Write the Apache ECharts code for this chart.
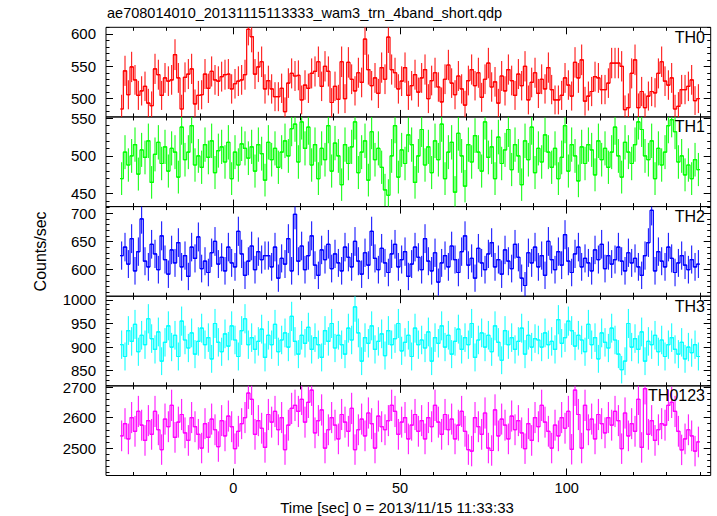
<!DOCTYPE html>
<html><head><meta charset="utf-8">
<script src="https://cdn.jsdelivr.net/npm/echarts@6/dist/echarts.min.js"></script>
<style>html,body{margin:0;padding:0;background:#fff}#c{width:717px;height:516px}</style>
</head><body><div id="c"></div>
<script>
// ---------------- data ----------------
const chartTitle = 'ae708014010_20131115113333_wam3_trn_4band_short.qdp';
const xAxisTitle = 'Time [sec] 0 = 2013/11/15 11:33:33';
const yAxisTitle = 'Counts/sec';
const panelNames = ['TH0', 'TH1', 'TH2', 'TH3', 'TH0123'];
const binStart = -34;   // start time of first 1-s bin
const binWidth = 1;

const th0 = [484,543,506,549,529,505,512,519,493,489,546,537,505,532,527,529,568,532,484,533,
 538,546,492,505,506,538,516,542,529,527,534,537,538,515,523,527,529,537,607,596,
 538,549,557,515,528,515,503,503,516,480,524,539,535,536,498,521,516,539,542,557,
 519,550,542,494,519,499,557,500,556,530,512,540,525,592,545,520,532,508,548,530,
 595,545,540,515,527,548,505,520,537,510,532,545,500,528,540,518,495,530,552,524,
 506,535,515,490,528,545,520,540,502,530,555,518,526,493,535,512,545,528,505,538,
 520,550,498,525,540,508,530,515,548,514,498,498,505,532,521,504,556,532,560,496,
 504,511,534,532,514,514,524,555,555,555,550,483,486,539,560,486,511,486,504,511,
 509,539,557,527,521,532,484,488,514,514,519,529,497,500];
const th1 = [470,505,488,500,515,476,508,498,520,465,502,518,490,512,480,510,505,472,538,495,
 505,540,488,500,485,515,498,520,478,507,512,492,518,470,505,488,516,510,497,512,
 480,515,503,468,518,495,510,485,505,520,500,536,542,492,545,510,538,488,515,470,
 510,495,540,480,517,500,462,515,490,512,545,478,505,520,468,532,495,510,485,455,
 448,500,540,472,508,490,528,515,465,500,535,488,512,478,520,495,542,470,505,518,
 452,530,500,460,515,492,527,505,480,545,498,512,470,525,490,508,535,482,515,500,
 462,520,495,538,478,510,492,528,505,485,510,470,498,540,480,515,500,467,512,490,
 515,508,475,520,495,510,485,505,538,500,472,518,505,490,515,545,535,500,495,520,
 470,510,488,505,540,548,532,492,500,475,488,470,495,482];
const th2 = [625,640,610,655,598,632,690,615,605,645,628,600,660,618,592,635,612,648,605,625,
 588,640,620,658,602,615,595,630,650,610,622,598,640,612,605,668,628,590,615,642,
 600,632,618,625,625,605,640,585,620,610,655,598,698,615,642,600,625,660,608,590,
 635,618,645,602,628,612,598,640,622,605,650,615,592,630,608,668,620,600,638,612,
 595,628,645,605,618,632,588,610,640,622,600,655,615,598,630,578,612,625,605,642,
 618,595,632,660,608,620,585,638,612,600,628,648,605,618,592,635,615,602,645,622,
 585,572,630,612,640,605,625,590,650,618,600,632,608,662,615,595,628,640,605,620,
 612,598,635,618,645,602,625,610,618,640,615,598,630,612,620,605,590,625,648,705,
 598,632,615,605,640,620,595,612,625,608,600,618,605,610];
const th3 = [905,880,935,912,948,890,925,905,960,918,895,932,870,910,945,900,925,880,955,915,
 898,930,885,912,940,905,920,875,950,910,890,928,902,945,915,880,935,960,905,920,
 895,912,938,878,925,905,948,890,915,930,900,965,912,885,925,908,942,895,920,905,
 878,935,912,950,898,925,905,885,940,915,985,930,870,920,908,945,895,912,928,882,
 935,905,918,950,892,910,925,880,940,905,915,898,932,870,920,908,945,900,925,885,
 912,938,895,920,905,950,878,915,930,900,925,890,945,910,872,935,905,920,895,912,
 940,885,925,900,918,915,900,930,905,912,895,958,908,920,955,935,902,925,915,890,
 948,905,920,875,930,910,898,940,915,885,852,870,950,900,918,895,932,870,912,905,
 925,890,915,880,905,920,895,885,910,875,900,888,905,880];
const th0123 = [2540,2580,2530,2600,2555,2620,2575,2525,2590,2545,2620,2560,2495,2595,2570,2640,2535,2585,2610,2550,
 2525,2600,2570,2545,2500,2580,2535,2595,2560,2505,2590,2540,2605,2570,2498,2555,2580,2600,2680,2660,
 2545,2590,2565,2502,2610,2585,2620,2560,2600,2495,2575,2630,2640,2620,2660,2585,2650,2690,2550,2590,
 2625,2500,2560,2600,2575,2530,2610,2585,2555,2630,2495,2560,2595,2540,2615,2580,2500,2605,2570,2560,
 2590,2640,2620,2545,2585,2600,2530,2575,2610,2555,2590,2530,2600,2570,2640,2585,2545,2610,2560,2595,
 2530,2575,2620,2555,2495,2490,2600,2570,2545,2615,2500,2492,2625,2540,2595,2575,2530,2605,2560,2590,
 2550,2498,2580,2525,2600,2570,2640,2585,2555,2500,2575,2540,2600,2565,2620,2496,2690,2610,2500,2640,
 2560,2595,2530,2610,2580,2550,2600,2575,2620,2590,2498,2615,2540,2580,2555,2660,2502,2695,2545,2590,
 2525,2560,2580,2575,2640,2650,2620,2555,2494,2530,2560,2540,2490,2520];

const xRange = [-38.2, 143.2];
const xTickLabels = [0, 50, 100];
const xMinorStep = 10;
const yRanges = [[471.7, 610.3], [433, 551.6], [553, 711.8], [817.7, 1007.8], [2410, 2704]];
const yTickLabels = [[500, 550, 600], [450, 500, 550], [600, 650, 700], [850, 900, 950, 1000], [2500, 2600, 2700]];
const yMinorSteps = [10, 10, 10, 10, 20];

// ---------------- style / layout ----------------
const colors = ['#ff0000', '#00ff00', '#0000ff', '#00ffff', '#ff00ff'];
const FONT = "'Liberation Sans', Arial, Helvetica, sans-serif";
const plotLeft = 106, plotRight = 710.7, plotTop = 27.3, plotBottom = 475.5;
const panelH = (plotBottom - plotTop) / 5;

const series = [th0, th1, th2, th3, th0123];

function stepValues(lo, hi, step) {
  const out = [];
  const s = Math.ceil(lo / step) * step;
  for (let v = s; v <= hi + 1e-9; v += step) out.push(Math.round(v * 1000) / 1000);
  return out;
}

const grids = [], xAxes = [], yAxes = [], ser = [];
const xMinor = stepValues(xRange[0], xRange[1], xMinorStep).filter(v => xTickLabels.indexOf(v) < 0);
const xMajor = xTickLabels.filter(v => v >= xRange[0] && v <= xRange[1]);
const yMajors = [];

for (let i = 0; i < 5; i++) {
  const top = plotTop + i * panelH;
  grids.push({left: plotLeft, top: top, width: plotRight - plotLeft, height: panelH,
    show: true, borderColor: '#000', borderWidth: 1, backgroundColor: 'transparent',
    containLabel: false, outerBoundsMode: 'none'});
  const yr = yRanges[i];
  const yMaj = yTickLabels[i].filter(v => v >= yr[0] && v <= yr[1]);
  yMajors.push(yMaj);
  const yMin = stepValues(yr[0], yr[1], yMinorSteps[i]).filter(v => yMaj.indexOf(v) < 0);
  const mkX = (pos, vals, len) => ({
    type: 'value', gridIndex: i, position: pos, min: xRange[0], max: xRange[1],
    axisLine: {show: false, onZero: false}, splitLine: {show: false},
    axisTick: {show: true, inside: true, length: len, customValues: vals, lineStyle: {color: '#000', width: 1}},
    axisLabel: {show: false}
  });
  xAxes.push(mkX('bottom', xMajor, 7));
  xAxes.push(mkX('bottom', xMinor, 3.5));
  xAxes.push(mkX('top', xMajor, 7));
  xAxes.push(mkX('top', xMinor, 3.5));
  const mkY = (pos, vals, len) => ({
    type: 'value', gridIndex: i, position: pos, min: yr[0], max: yr[1],
    axisLine: {show: false, onZero: false}, splitLine: {show: false},
    axisTick: {show: true, inside: true, length: len, customValues: vals, lineStyle: {color: '#000', width: 1}},
    axisLabel: {show: false}
  });
  yAxes.push(mkY('left', yMaj, 7));
  yAxes.push(mkY('left', yMin, 3.5));
  yAxes.push(mkY('right', yMaj, 7));
  yAxes.push(mkY('right', yMin, 3.5));

  const vals = series[i];
  const color = colors[i];
  const pts = vals.map((v, k) => [binStart + (k + 0.5) * binWidth, v, Math.sqrt(v * binWidth) / binWidth]);
  ser.push({
    type: 'line', xAxisIndex: i * 4, yAxisIndex: i * 4, data: pts.map(p => [p[0], p[1]]),
    step: 'middle', showSymbol: false, symbol: 'none', clip: true, animation: false,
    lineStyle: {color: color, width: 1.2}, silent: true
  });
  ser.push({
    type: 'custom', xAxisIndex: i * 4, yAxisIndex: i * 4, data: pts, clip: true, animation: false, silent: true,
    encode: {x: 0, y: 1},
    renderItem: function (params, api) {
      const t = api.value(0), v = api.value(1), e = api.value(2);
      const a = api.coord([t, v + e]), b = api.coord([t, v - e]);
      const l = api.coord([t - binWidth / 2, v]), r = api.coord([t + binWidth / 2, v]);
      return {type: 'group', children: [
        {type: 'line', shape: {x1: a[0], y1: a[1], x2: b[0], y2: b[1]}, style: {stroke: color, lineWidth: 1}},
        {type: 'line', shape: {x1: l[0], y1: l[1], x2: r[0], y2: r[1]}, style: {stroke: color, lineWidth: 1.2}}
      ]};
    }
  });
}

const chart = echarts.init(document.getElementById('c'), null, {renderer: 'svg'});
chart.setOption({
  animation: false,
  backgroundColor: '#fff',
  grid: grids, xAxis: xAxes, yAxis: yAxes, series: ser
});

// tick labels placed through the axes' own scales
const graphics = [];
for (let i = 0; i < 5; i++) {
  const top = plotTop + i * panelH;
  yMajors[i].forEach(v => {
    const p = chart.convertToPixel({xAxisIndex: i * 4, yAxisIndex: i * 4}, [xRange[0], v]);
    graphics.push({type: 'text', x: p[0] - 10, y: p[1], z: 50,
      style: {text: String(v), align: 'right', verticalAlign: 'middle', fill: '#000', font: '15px ' + FONT}});
  });
  graphics.push({type: 'text', x: 705, y: top + 10, z: 100,
    style: {text: panelNames[i], align: 'right', verticalAlign: 'middle', fill: '#000', font: '16px ' + FONT}});
}
xMajor.forEach(v => {
  const p = chart.convertToPixel({xAxisIndex: 16, yAxisIndex: 16}, [v, yRanges[4][0]]);
  graphics.push({type: 'text', x: p[0], y: p[1] + 12.5, z: 50,
    style: {text: String(v), align: 'center', verticalAlign: 'middle', fill: '#000', font: '14.5px ' + FONT}});
});
graphics.push({type: 'text', x: 107, y: 13, style: {text: chartTitle, align: 'left', verticalAlign: 'middle', fill: '#000', font: '14.5px ' + FONT}});
graphics.push({type: 'text', x: 397, y: 507, style: {text: xAxisTitle, align: 'center', verticalAlign: 'middle', fill: '#000', font: '15px ' + FONT}});
graphics.push({type: 'text', x: 40, y: (plotTop + plotBottom) / 2, rotation: Math.PI / 2,
  style: {text: yAxisTitle, align: 'center', verticalAlign: 'middle', fill: '#000', font: '16px ' + FONT}});
chart.setOption({graphic: graphics});
</script></body></html>
